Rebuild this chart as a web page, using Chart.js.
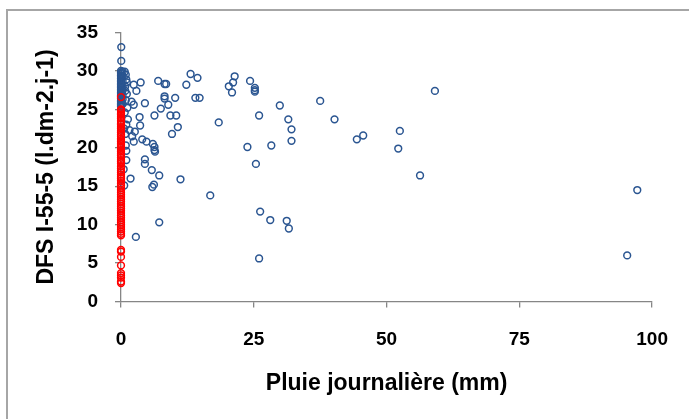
<!DOCTYPE html>
<html>
<head>
<meta charset="utf-8">
<script src="https://cdn.jsdelivr.net/npm/chart.js@4/dist/chart.umd.min.js"></script>
<style>
    html, body { margin: 0; padding: 0; background: #fff; overflow: hidden; }
    #wrap { position: relative; width: 689px; height: 419px; }
    #frame { position: absolute; left: 6px; top: 9px; width: 700px; height: 430px; border: 2px solid #a6a6a6; box-sizing: border-box; }
    canvas { position: absolute; left: 0; top: 0; }
</style>
</head>
<body>
<div id="wrap">
    <div id="frame"></div>
    <canvas id="scatter" width="689" height="419"></canvas>
</div>
<script>
// Rainy days: daily rain (mm) vs DFS I-55-5
const rainBlue = [
    0.05, 0.05,
    0.0, 0.0, 0.0, 0.0, 0.0, 0.0, 0.0, 0.0, 0.0, 0.0, 0.0, 0.0,
    0.0, 0.0, 0.0, 0.0, 0.0, 0.0, 0.0, 0.0, 0.0, 0.0, 0.0, 0.0,
    0.3, 0.3, 0.3, 0.3, 0.3, 0.3, 0.3, 0.3,
    0.7, 0.9, 1.0, 0.8, 1.1, 0.9, 1.2, 0.7, 1.0, 0.6, 0.9, 0.5,
    13.1, 14.4, 7.0, 3.7, 2.4, 8.2, 8.5, 12.3, 2.9, 1.1, 0.8, 8.2, 8.2, 10.2,
    14.0, 14.8, 2.0, 2.4, 4.5, 8.9, 7.5, 6.3, 9.3, 10.4, 3.5, 1.3, 10.7, 3.6,
    9.6, 1.6, 2.6, 0.8, 2.1, 4.0, 4.8, 2.4, 6.0, 6.3, 6.3, 6.4, 1.0, 1.0,
    4.5, 4.5, 5.8, 7.2, 11.2, 1.8, 0.6, 6.2, 5.9, 16.8, 7.2, 2.8,
    21.4, 21.1, 20.3, 20.9, 24.3, 25.2, 25.2, 25.2, 29.9, 26.0, 31.5, 32.1,
    32.1, 18.4, 23.8, 28.3, 25.4, 26.2, 28.1, 31.2, 31.6, 26.0,
    37.5, 40.2, 44.4, 45.6, 59.1, 52.5, 52.2, 56.3, 97.2, 95.3
];
const dfsBlue = [
    33.1, 31.3,
    30.0, 29.8, 29.6, 29.4, 29.2, 29.0, 28.8, 28.6, 28.4, 28.2, 28.0, 27.8,
    27.6, 27.4, 27.2, 27.0, 26.8, 26.6, 26.4, 26.2, 26.0, 25.8, 25.6, 25.4,
    29.9, 29.3, 28.7, 28.1, 27.5, 26.9, 26.3, 25.7,
    29.9, 29.5, 28.9, 28.0, 27.0, 26.2, 25.2, 24.6, 23.0, 22.5, 20.3, 17.2,
    29.6, 29.1, 28.7, 28.5, 28.2, 28.3, 28.3, 28.2, 27.4, 28.5, 27.4, 26.7, 26.4, 26.5,
    26.5, 26.5, 26.0, 25.6, 25.8, 25.6, 25.1, 24.2, 24.2, 24.2, 24.0, 23.7, 22.7, 22.9,
    21.8, 22.3, 22.1, 21.8, 21.5, 21.1, 20.8, 20.8, 20.5, 20.1, 19.7, 19.5, 19.6, 18.4,
    18.5, 17.9, 17.1, 16.4, 15.9, 16.0, 15.1, 15.2, 14.9, 13.8, 10.3, 8.4,
    29.3, 28.5, 28.0, 27.2, 28.7, 27.8, 27.5, 27.3, 25.5, 24.2, 23.7, 22.4,
    20.9, 23.3, 20.1, 20.3, 17.9, 11.7, 10.6, 10.5, 9.5, 5.6,
    26.1, 23.7, 21.1, 21.6, 27.4, 22.2, 19.9, 16.4, 14.5, 6.0
];

// Dry days (no rain)
const dfsRed = [
    26.6, 25.0, 24.8, 24.5, 24.3, 24.0, 23.8, 23.5, 23.2, 23.0, 22.7, 22.5,
    22.2, 22.0, 21.7, 21.5, 21.2, 21.0, 20.8, 20.5, 20.2, 20.0, 19.7, 19.5,
    19.2, 19.0, 18.7, 18.4, 18.2, 18.0, 17.6, 17.3, 17.0, 16.8, 16.5, 16.2,
    16.0, 15.7, 15.4, 15.1, 14.8, 14.5, 14.2, 13.9, 13.6, 13.3, 13.0, 12.7,
    12.4, 12.1, 11.8, 11.5, 11.2, 10.9, 10.6, 10.3, 10.0, 9.7, 9.4, 9.1,
    8.8, 8.6, 6.7, 6.5, 5.8, 4.7, 3.7, 3.4, 3.1, 2.6, 2.4
];
const rainRed = dfsRed.map(() => 0);

const xTicks = [0, 25, 50, 75, 100];
const yTicks = [0, 5, 10, 15, 20, 25, 30, 35];

const AXIS_GREY = '#868686';
const FONT = 'Liberation Sans';

function toPoints(xs, ys) {
    return xs.map((x, i) => ({ x, y: ys[i] }));
}

new Chart(document.getElementById('scatter'), {
    type: 'scatter',
    data: {
        datasets: [
            {
                label: 'Pluie',
                data: toPoints(rainBlue, dfsBlue),
                borderColor: '#2a5591',
                backgroundColor: 'transparent',
                pointRadius: 3.4,
                pointBorderWidth: 1.5,
                clip: false,
                order: 1,
            },
            {
                label: 'Sec',
                data: toPoints(rainRed, dfsRed),
                borderColor: '#ff0000',
                backgroundColor: 'transparent',
                pointRadius: 3.4,
                pointBorderWidth: 1.5,
                clip: false,
                order: 0,
            },
        ],
    },
    options: {
        responsive: false,
        animation: false,
        events: [],
        layout: { padding: { left: 0, top: 32.5, right: 34.5, bottom: 0 } },
        plugins: {
            legend: { display: false },
            tooltip: { enabled: false },
        },
        scales: {
            x: {
                type: 'linear',
                min: 0,
                max: 100,
                afterFit: s => { s.height = 117.5; },
                afterBuildTicks: s => { s.ticks = xTicks.map(v => ({ value: v })); },
                border: { display: true, color: AXIS_GREY, width: 1.3 },
                grid: { drawOnChartArea: false, drawTicks: true, tickLength: 6, color: AXIS_GREY, lineWidth: 1.3 },
                ticks: { color: '#000', padding: 21, font: { family: FONT, size: 19, weight: 'bold' } },
                title: {
                    display: true,
                    text: 'Pluie journalière (mm)',
                    color: '#000',
                    padding: { top: 0, bottom: 22 },
                    font: { family: FONT, size: 23, weight: 'bold' },
                },
            },
            y: {
                type: 'linear',
                min: 0,
                max: 35,
                afterFit: s => { s.width = 121; },
                afterBuildTicks: s => { s.ticks = yTicks.map(v => ({ value: v })); },
                border: { display: true, color: AXIS_GREY, width: 1.3 },
                grid: { drawOnChartArea: false, drawTicks: true, tickLength: 6, color: AXIS_GREY, lineWidth: 1.3 },
                ticks: { color: '#000', padding: 17, font: { family: FONT, size: 19, weight: 'bold' } },
                title: {
                    display: true,
                    text: 'DFS I-55-5 (l.dm-2.j-1)',
                    color: '#000',
                    padding: { top: 33, bottom: 0 },
                    font: { family: FONT, size: 23, weight: 'bold' },
                },
            },
        },
    },
});
</script>
</body>
</html>
